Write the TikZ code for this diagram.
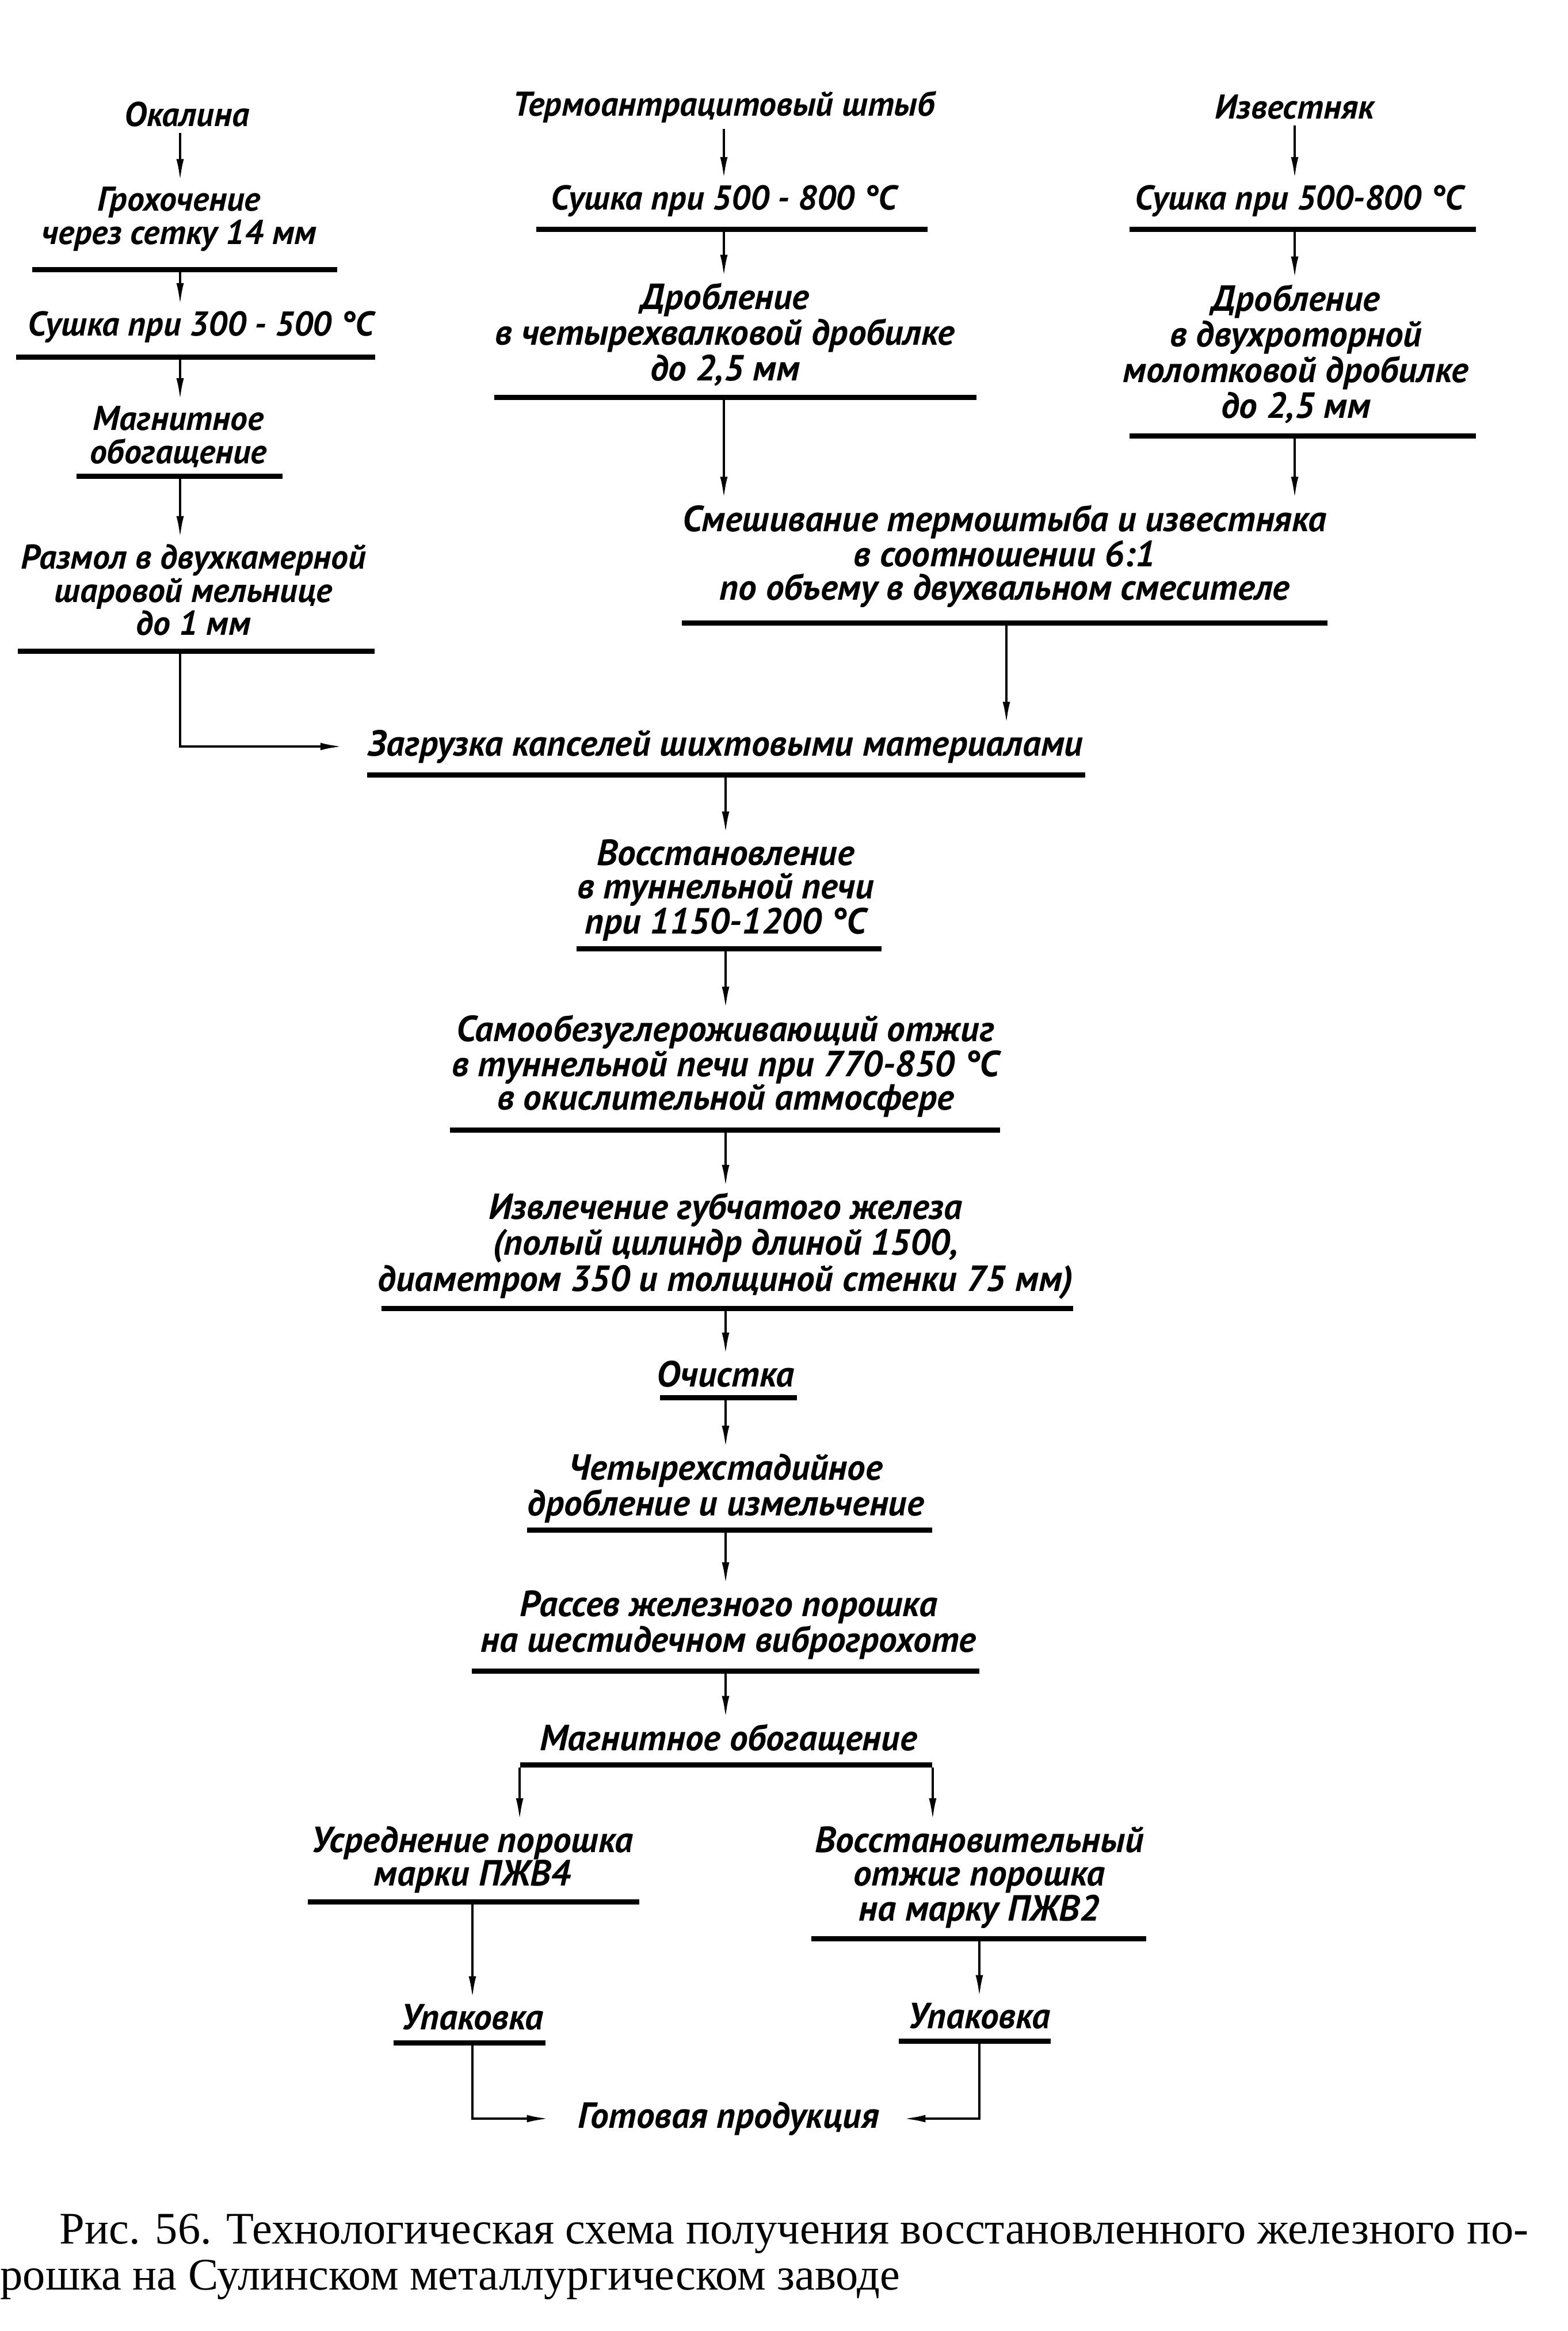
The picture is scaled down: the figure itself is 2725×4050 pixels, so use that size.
\documentclass[tikz,border=0pt]{standalone}
\usepackage{fontspec}
\usetikzlibrary{arrows.meta}
\newfontfamily\ptsans{PT Sans}
\newfontfamily\capfont{Liberation Serif}
\tikzset{
  lbl/.style={font=\ptsans\bfseries\itshape\fontsize{17}{16.4}\selectfont, align=center, inner xsep=0pt, inner ysep=0.1cm},
  lblb/.style={lbl, font=\ptsans\bfseries\itshape\fontsize{18}{16.4}\selectfont},
  barnode/.style={fill=black, inner sep=0pt, minimum height=0.09cm},
  arr/.style={line width=1.1pt, -{Latex[length=0.38cm,width=0.13cm]}},
  capt/.style={font=\capfont\fontsize{22.3}{25}\selectfont, inner sep=0pt, anchor=base west},
}
\begin{document}
\begin{tikzpicture}[x=0.01cm,y=-0.01cm]
\useasboundingbox[fill=white] (0,0) rectangle (2725,4050);
% columns
\coordinate (colA) at (313,0);
\coordinate (colB) at (1258,0);
\coordinate (colC) at (2250,0);
\coordinate (colX) at (1749,0);
\coordinate (colM) at (1261,0);
\coordinate (colL) at (821,0);
\coordinate (colR) at (1702,0);

% left column
\node[lbl] (tA1) at (325,199) {Окалина};
\node[lbl] (tA2) at (311,381) {Грохочение\\через сетку 14 мм};
\node[barnode, minimum width=5.29cm] (bA2) at (321,468) {};
\node[lbl] (tA3) at (349,568) {Сушка при 300 - 500 °C};
\node[barnode, minimum width=6.23cm] (bA3) at (340,620) {};
\node[lbl] (tA4) at (310,759) {Магнитное\\обогащение};
\node[barnode, minimum width=3.57cm] (bA4) at (312,827) {};
\node[lbl] (tA5) at (336,1025) {Размол в двухкамерной\\шаровой мельнице\\до 1 мм};
\node[barnode, minimum width=6.20cm] (bA5) at (341,1131) {};

% middle column
\node[lbl] (tB1) at (1258,186) {Термоантрацитовый штыб};
\node[lbl] (tB2) at (1258,349) {Сушка при 500 - 800 °C};
\node[barnode, minimum width=6.80cm] (bB2) at (1272,398) {};
\node[lblb] (tB3) at (1260,581) {Дробление\\в четырехвалковой дробилке\\до 2,5 мм};
\node[barnode, minimum width=8.37cm] (bB3) at (1278,690) {};

% right column
\node[lbl] (tC1) at (2250,186) {Известняк};
\node[lbl] (tC2) at (2258,349) {Сушка при 500-800 °C};
\node[barnode, minimum width=6.02cm] (bC2) at (2264,398) {};
\node[lblb] (tC3) at (2252,615) {Дробление\\в двухроторной\\молотковой дробилке\\до 2,5 мм};
\node[barnode, minimum width=6.02cm] (bC3) at (2264,757) {};

% mixing
\node[lblb] (tMix) at (1746,966) {Смешивание термоштыба и известняка\\в соотношении 6:1\\по объему в двухвальном смесителе};
\node[barnode, minimum width=11.21cm] (bMix) at (1746,1082) {};

% main line
\node[lblb] (tLoad) at (1261,1297) {Загрузка капселей шихтовыми материалами};
\node[barnode, minimum width=12.48cm] (bLoad) at (1262,1346) {};
\node[lblb] (tRed1) at (1261,1547) {Восстановление\\в туннельной печи\\при 1150-1200 °C};
\node[barnode, minimum width=5.29cm] (bRed1) at (1267,1648) {};
\node[lblb] (tAnn) at (1261,1852) {Самообезуглероживающий отжиг\\в туннельной печи при 770-850 °C\\в окислительной атмосфере};
\node[barnode, minimum width=9.55cm] (bAnn) at (1260,1963) {};
\node[lblb] (tExt) at (1261,2165) {Извлечение губчатого железа\\(полый цилиндр длиной 1500,\\диаметром 350 и толщиной стенки 75 мм)};
\node[barnode, minimum width=12.01cm] (bExt) at (1264,2273) {};
\node[lblb] (tCln) at (1261,2387) {Очистка};
\node[barnode, minimum width=2.38cm] (bCln) at (1266,2428) {};
\node[lblb] (tCr) at (1261,2586) {Четырехстадийное\\дробление и измельчение};
\node[barnode, minimum width=7.03cm] (bCr) at (1268,2658) {};
\node[lblb] (tSv) at (1266,2823) {Рассев железного порошка\\на шестидечном виброгрохоте};
\node[barnode, minimum width=8.81cm] (bSv) at (1261,2903) {};
\node[lblb] (tMag) at (1266,3022) {Магнитное обогащение};
\node[barnode, minimum width=7.16cm] (bMag) at (1262,3066) {};

% branches
\node[lblb] (tAvg) at (821,3231) {Усреднение порошка\\марки ПЖВ4};
\node[barnode, minimum width=5.76cm] (bAvg) at (823,3304) {};
\node[lblb] (tRed) at (1702,3262) {Восстановительный\\отжиг порошка\\на марку ПЖВ2};
\node[barnode, minimum width=5.82cm] (bRed) at (1701,3368) {};
\node[lblb] (tPkL) at (821,3505) {Упаковка};
\node[barnode, minimum width=2.64cm] (bPkL) at (816,3549) {};
\node[lblb] (tPkR) at (1702,3503) {Упаковка};
\node[barnode, minimum width=2.63cm] (bPkR) at (1694,3546) {};
\node[lblb] (tGot) at (1266,3681) {Готовая продукция};

% arrows left column
\draw[arr] (tA1.south -| colA) -- (tA2.north -| colA);
\draw[arr] (bA2.south -| colA) -- (tA3.north -| colA);
\draw[arr] (bA3.south -| colA) -- (tA4.north -| colA);
\draw[arr] (bA4.south -| colA) -- (tA5.north -| colA);
\draw[arr] (bA5.south -| colA) |- ([xshift=-0.44cm]tLoad.west);
% middle column
\draw[arr] (tB1.south -| colB) -- (tB2.north -| colB);
\draw[arr] (bB2.south -| colB) -- (tB3.north -| colB);
\draw[arr] (bB3.south -| colB) -- (tMix.north -| colB);
% right column
\draw[arr] (tC1.south -| colC) -- (tC2.north -| colC);
\draw[arr] (bC2.south -| colC) -- (tC3.north -| colC);
\draw[arr] (bC3.south -| colC) -- (tMix.north -| colC);
% mixing to loading
\draw[arr] (bMix.south -| colX) -- (tLoad.north -| colX);
% main
\draw[arr] (bLoad.south -| colM) -- (tRed1.north -| colM);
\draw[arr] (bRed1.south -| colM) -- (tAnn.north -| colM);
\draw[arr] (bAnn.south -| colM) -- (tExt.north -| colM);
\draw[arr] (bExt.south -| colM) -- (tCln.north -| colM);
\draw[arr] (bCln.south -| colM) -- (tCr.north -| colM);
\draw[arr] (bCr.south -| colM) -- (tSv.north -| colM);
\draw[arr] (bSv.south -| colM) -- (tMag.north -| colM);
\draw[arr] (bMag.south west) -- (bMag.south west |- tAvg.north);
\draw[arr] (bMag.south east) -- (bMag.south east |- tAvg.north);
\draw[arr] (bAvg.south -| colL) -- (tPkL.north -| colL);
\draw[arr] (bRed.south -| colR) -- (tPkR.north -| colR);
\draw[arr] (bPkL.south -| colL) |- ([xshift=-0.5cm]tGot.west);
\draw[arr] (bPkR.south -| colR) |- ([xshift=0.42cm]tGot.east);

% caption
\node[capt] (cap1) at (103,3898) {Рис. 56. Технологическая схема получения восстановленного железного по-};
\node[capt] (cap2) at (0,3978) {рошка на Сулинском металлургическом заводе};
\end{tikzpicture}
\end{document}
